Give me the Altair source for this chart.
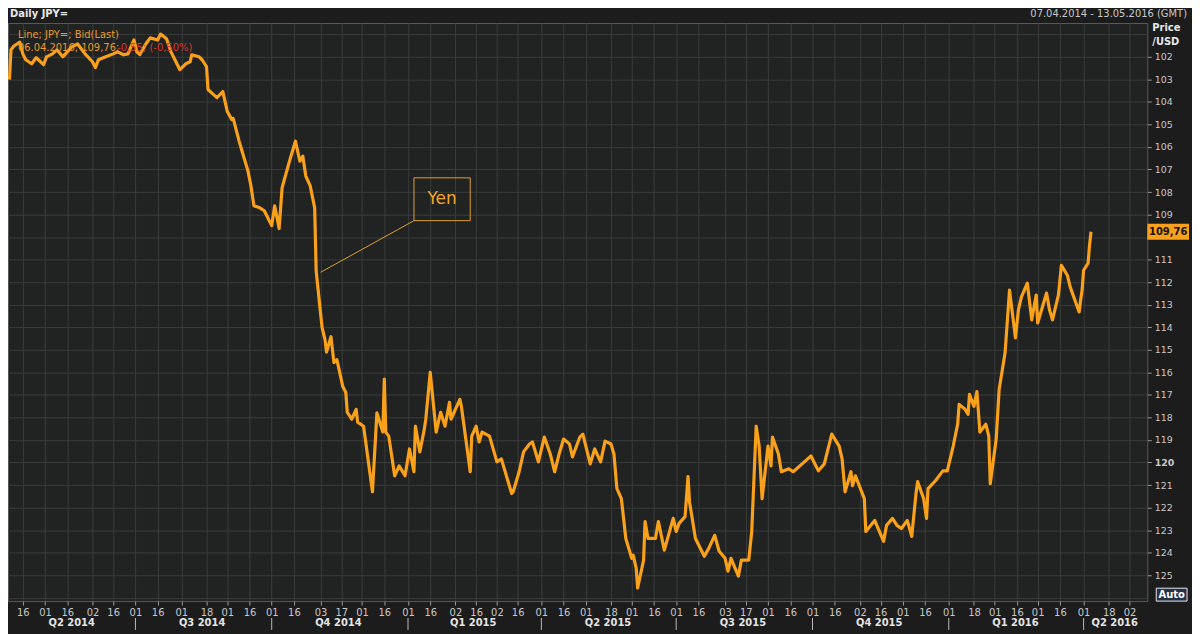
import altair as alt
import pandas as pd

# ---------------- data ----------------
DATES = [
    "2014-04-07", "2014-04-08", "2014-04-10", "2014-04-14", "2014-04-16", "2014-04-18", "2014-04-22",
    "2014-04-25", "2014-04-28", "2014-04-30", "2014-05-02", "2014-05-06", "2014-05-09", "2014-05-13",
    "2014-05-19", "2014-05-23", "2014-05-28", "2014-06-02", "2014-06-04", "2014-06-06", "2014-06-11",
    "2014-06-16", "2014-06-19", "2014-06-23", "2014-06-26", "2014-06-30", "2014-07-02", "2014-07-04",
    "2014-07-08", "2014-07-11", "2014-07-16", "2014-07-18", "2014-07-22", "2014-07-25", "2014-07-29",
    "2014-07-31", "2014-08-04", "2014-08-07", "2014-08-08", "2014-08-13", "2014-08-15", "2014-08-18",
    "2014-08-19", "2014-08-22", "2014-08-25", "2014-08-29", "2014-09-01", "2014-09-04", "2014-09-05",
    "2014-09-09", "2014-09-11", "2014-09-15", "2014-09-17", "2014-09-19", "2014-09-23", "2014-09-26",
    "2014-10-01", "2014-10-03", "2014-10-06", "2014-10-08", "2014-10-13", "2014-10-15", "2014-10-17",
    "2014-10-20", "2014-10-22", "2014-10-24", "2014-10-27", "2014-10-30", "2014-10-31", "2014-11-03",
    "2014-11-04", "2014-11-06", "2014-11-07", "2014-11-10", "2014-11-12", "2014-11-14", "2014-11-18",
    "2014-11-20", "2014-11-21", "2014-11-24", "2014-11-27", "2014-11-28", "2014-12-02", "2014-12-08",
    "2014-12-11", "2014-12-15", "2014-12-16", "2014-12-17", "2014-12-19", "2014-12-23", "2014-12-26",
    "2014-12-30",
    "2015-01-02", "2015-01-05", "2015-01-06", "2015-01-09", "2015-01-12", "2015-01-13", "2015-01-16",
    "2015-01-20", "2015-01-23", "2015-01-26", "2015-01-29", "2015-01-30", "2015-02-05", "2015-02-06",
    "2015-02-09", "2015-02-12", "2015-02-13", "2015-02-16", "2015-02-18", "2015-02-20", "2015-02-25",
    "2015-03-02", "2015-03-05", "2015-03-09", "2015-03-12", "2015-03-13", "2015-03-17", "2015-03-20",
    "2015-03-24", "2015-03-26", "2015-03-30", "2015-04-03", "2015-04-07", "2015-04-10", "2015-04-13",
    "2015-04-16", "2015-04-20", "2015-04-22", "2015-04-27", "2015-04-29", "2015-05-04", "2015-05-07",
    "2015-05-11", "2015-05-14", "2015-05-18", "2015-05-20", "2015-05-22", "2015-05-25", "2015-05-28",
    "2015-06-01", "2015-06-02", "2015-06-04", "2015-06-05", "2015-06-09", "2015-06-10", "2015-06-12",
    "2015-06-17", "2015-06-19", "2015-06-23", "2015-06-29", "2015-07-01", "2015-07-03", "2015-07-07",
    "2015-07-09", "2015-07-10", "2015-07-14", "2015-07-20", "2015-07-23", "2015-07-27", "2015-07-30",
    "2015-08-03", "2015-08-05", "2015-08-07", "2015-08-12", "2015-08-14", "2015-08-19", "2015-08-21",
    "2015-08-24", "2015-08-26", "2015-08-28", "2015-09-01", "2015-09-03", "2015-09-04", "2015-09-08",
    "2015-09-10", "2015-09-15", "2015-09-18", "2015-09-24", "2015-09-30", "2015-10-05", "2015-10-09",
    "2015-10-14", "2015-10-19", "2015-10-21", "2015-10-23", "2015-10-27", "2015-10-28", "2015-10-30",
    "2015-11-05", "2015-11-06", "2015-11-12", "2015-11-18", "2015-11-20", "2015-11-24", "2015-11-27",
    "2015-11-30", "2015-12-04", "2015-12-07", "2015-12-10", "2015-12-11", "2015-12-15", "2015-12-17",
    "2015-12-18", "2015-12-23", "2015-12-28", "2015-12-31",
    "2016-01-04", "2016-01-07", "2016-01-08", "2016-01-12", "2016-01-14", "2016-01-15", "2016-01-18",
    "2016-01-20", "2016-01-22", "2016-01-26", "2016-01-28", "2016-01-29", "2016-02-02", "2016-02-04",
    "2016-02-08", "2016-02-11", "2016-02-15", "2016-02-17", "2016-02-19", "2016-02-23", "2016-02-26",
    "2016-02-29", "2016-03-01", "2016-03-03", "2016-03-07", "2016-03-09", "2016-03-11", "2016-03-15",
    "2016-03-17", "2016-03-21", "2016-03-23", "2016-03-29", "2016-03-30", "2016-03-31", "2016-04-01",
    "2016-04-04", "2016-04-05", "2016-04-06",
]
PRICES = [
    103.01, 101.69, 101.52, 101.35, 101.87, 102.13, 102.31,
    102.04, 102.22, 102.35, 102.00, 101.87, 101.69, 102.00,
    101.56, 101.43, 101.87, 102.22, 102.48, 102.13, 102.00,
    101.87, 101.78, 101.91, 101.87, 101.25, 101.78, 101.90,
    101.43, 101.16, 101.25, 100.99, 101.20, 101.78, 102.31,
    102.57, 102.31, 102.22, 101.91, 102.00, 102.13, 102.44,
    103.45, 103.63, 103.81, 103.54, 104.42, 104.78, 104.73,
    105.74, 106.19, 107.07, 107.73, 108.61, 108.70, 108.83,
    109.49, 108.61, 109.62, 107.81, 106.63, 106.19, 105.74,
    106.63, 106.41, 107.29, 107.73, 108.70, 111.50, 113.40,
    114.00, 114.56, 115.10, 114.42, 115.57, 115.44, 116.63,
    116.89, 117.77, 118.08, 117.64, 118.21, 118.39, 121.30,
    117.80, 118.65, 116.30, 118.65, 118.83, 120.59, 120.15,
    120.59,
    119.40, 120.41, 118.39, 119.53, 118.52, 118.08, 116.00,
    118.65, 117.77, 118.39, 117.33, 118.08, 117.20, 117.50,
    118.96, 120.41, 118.83, 118.39, 119.09, 118.65, 118.83,
    119.97, 119.84, 120.72, 121.38, 121.30, 120.41, 119.53,
    119.18, 119.09, 119.97, 118.87, 119.62, 120.41, 119.62,
    118.96, 119.18, 119.75, 118.87, 118.74, 120.06, 119.40,
    119.97, 119.05, 119.18, 119.62, 121.16, 121.60, 123.37,
    124.25, 124.11, 124.69, 125.57, 124.33, 122.62, 123.37,
    123.37, 122.62, 123.89, 122.48, 123.06, 122.70, 122.40,
    120.63, 121.74, 123.37, 124.16, 123.81, 123.23, 123.94,
    124.25, 124.82, 124.25, 125.04, 124.33, 124.33, 123.06,
    118.39, 119.27, 121.60, 119.27, 120.15, 118.87, 119.62,
    120.41, 120.28, 120.41, 120.06, 119.71, 120.37, 120.06,
    118.74, 119.27, 119.84, 121.30, 120.41, 121.03, 120.59,
    121.60, 123.06, 122.57, 123.50, 122.79, 122.48, 122.79,
    122.93, 122.57, 123.28, 121.30, 120.85, 121.60, 122.48,
    121.16, 120.81, 120.37, 120.37,
    119.27, 118.30, 117.42, 117.64, 117.86, 116.98, 117.51,
    116.85, 118.65, 118.30, 118.83, 120.94, 118.96, 116.76,
    115.13, 112.35, 114.47, 113.23, 112.66, 112.04, 113.67,
    112.57, 113.81, 113.37, 112.48, 113.23, 113.67, 112.57,
    111.25, 111.69, 112.22, 113.32, 112.79, 112.35, 111.47,
    111.16, 110.37, 109.76,
]

X_TICKS = [
    "2014-04-16", "2014-05-01", "2014-05-16", "2014-06-02", "2014-06-16",
    "2014-07-01", "2014-07-16", "2014-08-01", "2014-08-18", "2014-09-01", "2014-09-16",
    "2014-10-01", "2014-10-16", "2014-11-03", "2014-11-17", "2014-12-01", "2014-12-16",
    "2015-01-01", "2015-01-16", "2015-02-02", "2015-02-16", "2015-03-02", "2015-03-16",
    "2015-04-01", "2015-04-16", "2015-05-01", "2015-05-18", "2015-06-01", "2015-06-16",
    "2015-07-01", "2015-07-16", "2015-08-03", "2015-08-17", "2015-09-01", "2015-09-16",
    "2015-10-01", "2015-10-16", "2015-11-02", "2015-11-16", "2015-12-01", "2015-12-16",
    "2016-01-01", "2016-01-18", "2016-02-01", "2016-02-16", "2016-03-01", "2016-03-16",
    "2016-04-01", "2016-04-18", "2016-05-02",
]
QUARTER_LABELS = ["Q2 2014", "Q3 2014", "Q4 2014", "Q1 2015", "Q2 2015",
                  "Q3 2015", "Q4 2015", "Q1 2016", "Q2 2016"]
QUARTER_LABEL_DATES = ["2014-05-19", "2014-08-15", "2014-11-15", "2015-02-14", "2015-05-16",
                       "2015-08-15", "2015-11-15", "2016-02-15", "2016-04-22"]
QUARTER_STARTS = ["2014-07-01", "2014-10-01", "2015-01-01", "2015-04-01",
                  "2015-07-01", "2015-10-01", "2016-01-01", "2016-04-01"]
Y_GRID = list(range(101, 127))
DOMAIN_X = ["2014-04-06", "2016-05-14"]
DOMAIN_Y = [100.5, 126.15]

TITLE = "Daily JPY="
RANGE_TEXT = "07.04.2014 - 13.05.2016 (GMT)"
LEGEND_1 = "Line; JPY=; Bid(Last)"
LEGEND_2 = "06.04.2016; 109,76; "
LEGEND_3 = "-0,55; (-0,50%)"
LAST_PRICE = 109.76
LAST_LABEL = "109,76"
ANNOT_TEXT = "Yen"
ANNOT_BOX = {"date": "2015-01-05", "date2": "2015-02-12", "price": 107.37, "price2": 109.27}
ANNOT_TEXT_POS = {"date": "2015-01-24", "price": 108.3}
ANNOT_LEADER = {"date": "2014-11-03", "price": 111.56, "date2": "2015-01-05", "price2": 109.27}

# ---------------- styling ----------------
W, H = 1147, 582
ORANGE = "#F9A11B"
TXT = "#c8c8c8"
FONT = "DejaVu Sans"


def dt(s):
    y, m, d = map(int, s.split("-"))
    return alt.DateTime(year=y, month=m, date=d, utc=True)


x_scale = alt.Scale(type="utc", domain=[dt(DOMAIN_X[0]), dt(DOMAIN_X[1])])
y_scale = alt.Scale(domain=DOMAIN_Y, reverse=True, nice=False, zero=False)

x_axis = alt.Axis(
    values=[dt(s) for s in X_TICKS], tickCount=200,
    labelExpr="utcFormat(datum.value, '%d')",
    title=None, grid=True, gridColor="#3a3c3c", gridWidth=1,
    domain=False, ticks=True, tickSize=4, tickColor="#9a9a9a",
    labelColor=TXT, labelFont=FONT, labelFontSize=10, labelPadding=2,
    labelOverlap=False, labelFlush=False,
)
# the 110 label sits under the last-price tag, as in the reference
y_axis = alt.Axis(
    orient="right", values=Y_GRID, tickCount=200,
    labelExpr="(datum.value < 102 || datum.value > 125 || datum.value == 110) ? '' : datum.value",
    title=None, grid=True, gridColor="#3a3c3c", gridWidth=1,
    domain=False, tickSize=4, tickColor="#9a9a9a",
    tickOpacity={"condition": {"test": "datum.value < 102 || datum.value > 125", "value": 0}, "value": 1},
    labelFontWeight={"condition": {"test": "datum.value == 120", "value": "bold"}, "value": "normal"},
    labelColor=TXT, labelFont=FONT, labelFontSize=9.5, labelPadding=3,
    labelOverlap=False, labelBaseline="middle",
)

df = pd.DataFrame({"date": DATES, "price": PRICES})

line = alt.Chart(df).mark_line(color=ORANGE, strokeWidth=3.2, strokeJoin="round").encode(
    x=alt.X("date:T", scale=x_scale, axis=x_axis, title=None),
    y=alt.Y("price:Q", scale=y_scale, axis=y_axis, title=None),
)

# quarter labels below the day labels
q_df = pd.DataFrame({"date": QUARTER_LABEL_DATES, "label": QUARTER_LABELS})
q_text = alt.Chart(q_df).mark_text(
    font=FONT, fontSize=10, fontWeight="bold", color="#e4e4e4", baseline="middle"
).encode(x=alt.X("date:T", title=None), y=alt.value(H + 22), text="label:N")

qs_df = pd.DataFrame({"date": QUARTER_STARTS})
q_sep = alt.Chart(qs_df).mark_rule(color="#bdbdbd", strokeWidth=1).encode(
    x=alt.X("date:T", title=None), y=alt.value(H + 17), y2=alt.value(H + 29)
)

# Yen annotation
box_df = pd.DataFrame([ANNOT_BOX])
annot_box = alt.Chart(box_df).mark_rect(
    fillOpacity=0, stroke="#E0A030", strokeWidth=1
).encode(
    x=alt.X("date:T", title=None), x2="date2",
    y=alt.Y("price:Q", title=None), y2="price2",
)
lead_df = pd.DataFrame([ANNOT_LEADER])
annot_lead = alt.Chart(lead_df).mark_rule(color="#E0A030", strokeWidth=1).encode(
    x=alt.X("date:T", title=None), x2="date2",
    y=alt.Y("price:Q", title=None), y2="price2",
)
at_df = pd.DataFrame([{**ANNOT_TEXT_POS, "label": ANNOT_TEXT}])
annot_text = alt.Chart(at_df).mark_text(
    font=FONT, fontSize=17, color="#F5A623", align="center", baseline="middle"
).encode(x=alt.X("date:T", title=None), y=alt.Y("price:Q", title=None), text="label:N")

# last price tag on the right axis
lp_df = pd.DataFrame({"price": [LAST_PRICE], "label": [LAST_LABEL]})
lp_box = alt.Chart(lp_df).mark_rect(color=ORANGE, yOffset=-8, y2Offset=8).encode(
    y=alt.Y("price:Q", title=None), y2="price", x=alt.value(W), x2=alt.value(W + 42)
)
lp_text = alt.Chart(lp_df).mark_text(
    font=FONT, fontSize=10, fontWeight="bold", color="#111111", align="center", baseline="middle"
).encode(y=alt.Y("price:Q", title=None), x=alt.value(W + 21), text="label:N")

# header / legend texts
hdr = pd.DataFrame({
    "label": [TITLE, RANGE_TEXT, LEGEND_1, LEGEND_2, LEGEND_3, "Price", "/USD"],
    "px": [2, 1187, 10, 10, 110, 1152, 1152],
    "py": [-9, -9, 12, 25, 25, 5.5, 19.5],
    "kind": ["title", "range", "leg", "leg", "red", "unit", "unit"],
})


def hdr_text(kind, color, weight="normal", align="left"):
    return alt.Chart(hdr).transform_filter(alt.datum.kind == kind).mark_text(
        font=FONT, fontSize=10, fontWeight=weight, color=color, align=align, baseline="middle"
    ).encode(x=alt.X("px:Q", scale=None), y=alt.Y("py:Q", scale=None), text="label:N")


t_title = hdr_text("title", "#e6e6e6", "bold")
t_range = hdr_text("range", TXT, align="right")
t_leg = hdr_text("leg", "#E89B2A")
t_red = hdr_text("red", "#D8382A")
t_unit = hdr_text("unit", "#e6e6e6", "bold")

# "Auto" button
auto_df = pd.DataFrame({"label": ["Auto"]})
auto_box = alt.Chart(auto_df).mark_rect(fill="#26324a", stroke="#e8e8e8", strokeWidth=1).encode(
    x=alt.value(W + 9), x2=alt.value(W + 40), y=alt.value(H - 13), y2=alt.value(H)
)
auto_text = alt.Chart(auto_df).mark_text(
    font=FONT, fontSize=10, fontWeight="bold", color="#ffffff", align="center", baseline="middle"
).encode(x=alt.value(W + 24.5), y=alt.value(H - 6.5), text="label:N")

chart = alt.layer(
    line, annot_lead, annot_box, annot_text, q_sep, q_text, lp_box, lp_text,
    t_title, t_range, t_leg, t_red, t_unit, auto_box, auto_text,
).properties(
    width=W, height=H,
    autosize="none",
    padding={"left": 0, "top": 13, "right": 45, "bottom": 31},
    background="#1c1c1c",
).configure_view(
    fill="#212222", stroke="#5a5a5a", strokeWidth=1,
)

chart.save("out.html", embed_options={"renderer": "svg", "actions": False})
